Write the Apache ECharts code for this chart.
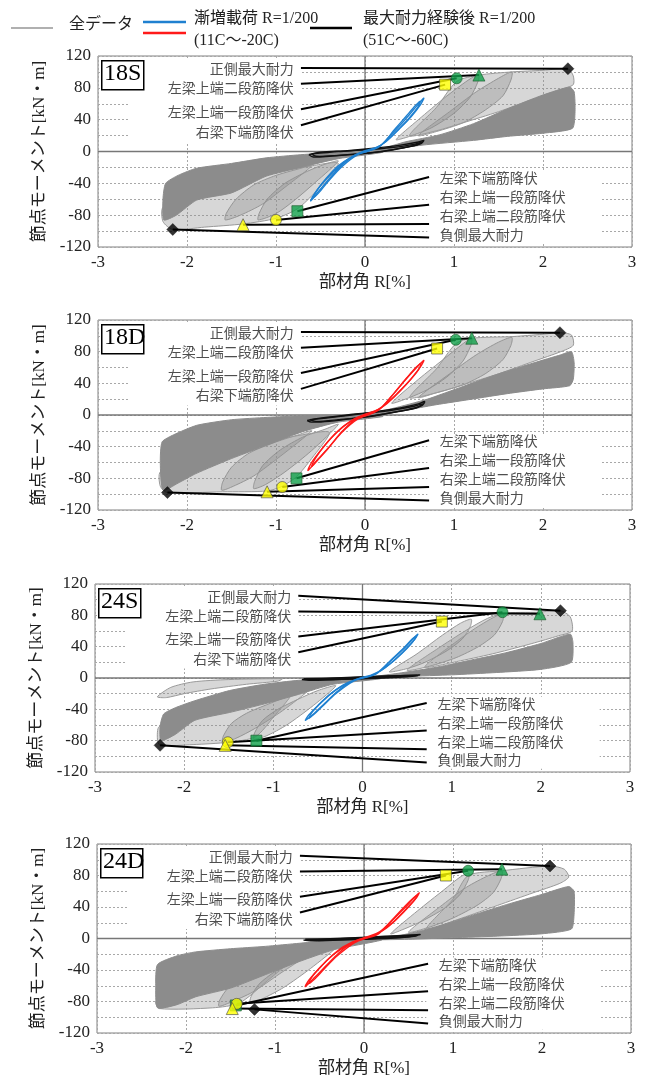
<!DOCTYPE html>
<html>
<head>
<meta charset="utf-8">
<script src="https://cdn.jsdelivr.net/npm/echarts@6/dist/echarts.min.js"></script>
<style>
html,body{margin:0;padding:0;background:#fff}
#main{width:658px;height:1075px}
</style>
</head>
<body>
<div id="main"></div>
<script>
var FONT = "'Liberation Serif','Noto Sans CJK JP',serif"

// 共通の注記
var panelTags = ['18S', '18D', '24S', '24D']
var posTexts = ['正側最大耐力', '左梁上端二段筋降伏', '左梁上端一段筋降伏', '右梁下端筋降伏']
var negTexts = ['左梁下端筋降伏', '右梁上端一段筋降伏', '右梁上端二段筋降伏', '負側最大耐力']
var posTextY = [102, 78, 48, 23]
var negTextY = [-35, -59, -83, -107]
var anchorY = [105, 85, 53, 33, -32, -67, -91, -108]
// 順番: 正側最大, 左上二段, 左上一段, 右下端, 左下端, 右上一段, 右上二段, 負側最大
var markShapes = ['diamond', 'triangle', 'circle', 'rect', 'rect', 'circle', 'triangle', 'diamond']

// ---- 18S ----
var marks18S = [[2.28,104],[1.28,96],[1.03,92],[0.90,84],[-0.76,-75],[-1.00,-86],[-1.37,-92],[-2.16,-98]]
var band18S = [
  [[-0.2,-4],[0.2,4],[0.45,12],[0.84,21],[1.22,35],[1.61,54],[2.0,71],[2.3,81],[2.35,75],[2.36,50],[2.33,29],[2.0,23],[1.6,19],[1.22,14],[0.64,8],[0.2,1]],
  [[0.2,3],[-0.3,-1],[-0.72,-4],[-1.11,-8],[-1.5,-15],[-1.89,-21],[-2.1,-30],[-2.24,-40],[-2.27,-60],[-2.26,-86],[-2.12,-80],[-1.89,-61],[-1.5,-52],[-1.11,-31],[-0.72,-20],[-0.3,-9],[0.2,-1]]
]
var leaf18S = [
  [[0.35,15],[0.6,40],[0.9,68],[1.1,85],[1.22,94],[1.28,97],[1.27,88],[1.18,68],[1.0,48],[0.75,30],[0.5,19]],
  [[0.6,20],[0.95,50],[1.25,75],[1.5,92],[1.65,100],[1.64,90],[1.55,70],[1.35,52],[1.1,36],[0.8,25]],
  [[0.5,20],[0.8,55],[1.03,88],[1.28,96],[1.65,100],[2.0,102],[2.28,104],[2.34,95],[2.34,84],[2.2,78],[1.9,66],[1.5,50],[1.1,36],[0.8,26]],
  [[-0.3,-12],[-0.55,-38],[-0.8,-62],[-1.0,-78],[-1.2,-86],[-1.19,-78],[-1.1,-60],[-0.9,-40],[-0.65,-25],[-0.45,-16]],
  [[-0.6,-18],[-0.9,-45],[-1.15,-66],[-1.4,-80],[-1.57,-86],[-1.56,-78],[-1.45,-60],[-1.25,-42],[-1.0,-30],[-0.75,-22]],
  [[-0.3,-15],[-0.55,-50],[-0.76,-72],[-1.0,-84],[-1.37,-91],[-1.8,-95],[-2.16,-98],[-2.27,-88],[-2.27,-70],[-2.0,-55],[-1.6,-42],[-1.1,-28],[-0.6,-18]]
]
var cyc18S = [
  [[0,0],[0.15,5],[0.3,22],[0.45,40],[0.58,57],[0.66,67],[0.63,60],[0.52,44],[0.4,30],[0.28,17],[0.15,6],[0.02,0],[-0.1,-4],[-0.25,-16],[-0.4,-34],[-0.52,-50],[-0.61,-62],[-0.58,-55],[-0.48,-40],[-0.36,-26],[-0.22,-12],[-0.08,-3],[0,0]],
  [[0,1],[0.18,8],[0.32,26],[0.46,44],[0.57,58],[0.62,63],[0.59,55],[0.48,40],[0.35,25],[0.22,11],[0.07,2],[-0.08,-4],[-0.26,-19],[-0.41,-37],[-0.52,-52],[-0.58,-58],[-0.54,-49],[-0.43,-33],[-0.3,-18],[-0.14,-6],[0,1]]
]
var post18S = [
  [[-0.63,-4],[-0.5,-1],[-0.2,1],[0.1,4],[0.4,8],[0.6,12],[0.66,14],[0.63,10],[0.45,5],[0.2,0],[-0.1,-3],[-0.4,-6],[-0.58,-7],[-0.63,-4]],
  [[-0.6,-3],[-0.3,0],[0,2],[0.3,5],[0.55,9],[0.64,12],[0.58,8],[0.35,3],[0.05,-2],[-0.3,-5],[-0.55,-6],[-0.6,-3]]
]

// ---- 18D ----
var marks18D = [[2.19,104],[1.20,97],[1.02,95],[0.81,84],[-0.77,-80],[-0.93,-91],[-1.10,-97],[-2.22,-98]]
var band18D = [
  [[-0.2,-4],[0.3,8],[0.7,20],[1.1,36],[1.5,52],[1.9,66],[2.2,76],[2.32,80],[2.35,66],[2.34,45],[2.3,37],[2.0,33],[1.6,27],[1.2,20],[0.8,13],[0.4,5]],
  [[0.2,2],[-0.3,0],[-0.7,-1],[-1.1,-3],[-1.5,-6],[-1.89,-13],[-2.15,-25],[-2.28,-34],[-2.3,-60],[-2.27,-95],[-2.1,-86],[-1.9,-74],[-1.5,-55],[-1.1,-38],[-0.7,-21],[-0.3,-9],[0.2,-2]]
]
var leaf18D = [
  [[0.3,15],[0.6,45],[0.9,72],[1.1,90],[1.2,97],[1.19,88],[1.1,68],[0.92,48],[0.7,32],[0.5,22]],
  [[0.6,22],[0.95,52],[1.25,76],[1.5,92],[1.65,98],[1.64,88],[1.55,70],[1.35,52],[1.1,38],[0.8,28]],
  [[0.5,22],[0.8,58],[1.02,90],[1.2,97],[1.65,99],[2.0,102],[2.19,104],[2.32,101],[2.34,88],[2.2,80],[1.9,68],[1.5,52],[1.1,38],[0.8,28]],
  [[-0.3,-12],[-0.6,-45],[-0.9,-72],[-1.12,-88],[-1.25,-93],[-1.24,-84],[-1.15,-64],[-0.95,-44],[-0.7,-28],[-0.45,-18]],
  [[-0.6,-20],[-0.95,-52],[-1.25,-77],[-1.48,-90],[-1.61,-95],[-1.6,-85],[-1.5,-66],[-1.3,-48],[-1.0,-34],[-0.75,-25]],
  [[-0.4,-22],[-0.6,-55],[-0.77,-78],[-0.93,-90],[-1.1,-96],[-1.6,-97],[-2.22,-98],[-2.3,-90],[-2.3,-72],[-2.0,-62],[-1.6,-48],[-1.1,-34],[-0.7,-25]]
]
var cyc18D = [
  [[0,0],[0.15,6],[0.3,24],[0.45,44],[0.58,60],[0.66,69],[0.63,62],[0.52,46],[0.4,31],[0.28,18],[0.15,7],[0.02,0],[-0.1,-5],[-0.25,-20],[-0.4,-40],[-0.53,-56],[-0.64,-70],[-0.6,-60],[-0.5,-45],[-0.38,-29],[-0.24,-14],[-0.1,-4],[0,0]],
  [[0,1],[0.18,9],[0.33,28],[0.47,47],[0.58,61],[0.63,65],[0.6,57],[0.49,42],[0.36,27],[0.23,13],[0.08,2],[-0.08,-5],[-0.27,-23],[-0.42,-43],[-0.54,-58],[-0.6,-65],[-0.56,-55],[-0.45,-38],[-0.32,-22],[-0.15,-7],[0,1]]
]
var post18D = [
  [[-0.65,-7],[-0.5,-4],[-0.2,0],[0.1,4],[0.4,9],[0.6,14],[0.67,17],[0.64,12],[0.45,6],[0.2,1],[-0.1,-4],[-0.4,-8],[-0.6,-9],[-0.65,-7]],
  [[-0.62,-6],[-0.3,-2],[0,2],[0.3,6],[0.55,11],[0.65,14],[0.58,9],[0.35,4],[0.05,-2],[-0.3,-6],[-0.55,-8],[-0.62,-6]]
]

// ---- 24S ----
var marks24S = [[2.22,86],[1.99,82],[1.57,84],[0.89,72],[-1.19,-80],[-1.51,-82],[-1.54,-86],[-2.27,-86]]
var band24S = [
  [[-0.2,-3],[0.4,6],[0.84,14],[1.22,23],[1.6,32],[2.0,44],[2.33,56],[2.36,45],[2.34,20],[2.0,11],[1.5,7],[1.0,4],[0.5,2],[0,-1]],
  [[0.2,2],[-0.3,-1],[-0.72,-3],[-1.1,-8],[-1.49,-16],[-1.88,-29],[-2.1,-38],[-2.23,-46],[-2.27,-62],[-2.26,-80],[-2.1,-72],[-1.88,-54],[-1.49,-44],[-1.1,-33],[-0.72,-21],[-0.33,-8],[0.2,-1]]
]
var leaf24S = [
  [[0.3,8],[0.6,30],[0.9,55],[1.1,70],[1.22,75],[1.21,66],[1.12,50],[0.95,35],[0.7,20],[0.5,12]],
  [[0.5,10],[0.85,38],[1.15,60],[1.4,76],[1.58,82],[1.57,72],[1.48,55],[1.3,40],[1.05,26],[0.75,15]],
  [[0.7,14],[1.0,42],[1.3,66],[1.57,82],[1.98,84],[2.22,86],[2.33,78],[2.35,60],[2.2,54],[1.9,44],[1.5,32],[1.1,22]],
  [[-0.9,-1],[-1.5,-2],[-1.9,-5],[-2.15,-12],[-2.3,-24],[-2.2,-25],[-2.0,-20],[-1.7,-14],[-1.3,-8],[-0.95,-4]],
  [[-0.3,-10],[-0.55,-35],[-0.85,-60],[-1.08,-74],[-1.22,-78],[-1.21,-70],[-1.12,-54],[-0.95,-40],[-0.72,-27],[-0.5,-16]],
  [[-0.6,-15],[-0.9,-42],[-1.2,-64],[-1.42,-77],[-1.57,-82],[-1.56,-74],[-1.47,-58],[-1.3,-45],[-1.05,-33],[-0.8,-22]],
  [[-0.8,-20],[-1.0,-50],[-1.2,-75],[-1.5,-82],[-1.9,-85],[-2.27,-86],[-2.3,-78],[-2.28,-62],[-2.0,-54],[-1.6,-44],[-1.2,-32]]
]
var cyc24S = [
  [[0,0],[0.15,5],[0.3,20],[0.45,36],[0.55,48],[0.62,56],[0.59,50],[0.5,38],[0.38,25],[0.25,13],[0.12,4],[0,0],[-0.12,-4],[-0.28,-17],[-0.42,-32],[-0.54,-45],[-0.64,-54],[-0.6,-47],[-0.5,-35],[-0.38,-22],[-0.22,-9],[-0.08,-2],[0,0]],
  [[0,1],[0.17,7],[0.32,23],[0.46,38],[0.56,50],[0.6,53],[0.56,46],[0.46,34],[0.34,21],[0.2,9],[0.06,2],[-0.1,-4],[-0.3,-20],[-0.44,-35],[-0.55,-47],[-0.6,-51],[-0.56,-43],[-0.45,-30],[-0.32,-17],[-0.15,-6],[0,1]]
]
var post24S = [
  [[-0.68,-2],[-0.4,-1],[0,1],[0.4,3],[0.64,4],[0.5,2],[0.1,0],[-0.3,-2],[-0.6,-3],[-0.68,-2]],
  [[-0.66,-1],[-0.3,0],[0.1,2],[0.45,3],[0.62,3],[0.4,1],[0,-1],[-0.4,-2],[-0.66,-1]]
]

// ---- 24D ----
var marks24D = [[2.09,92],[1.55,88],[1.17,86],[0.92,80],[-1.44,-85],[-1.43,-83],[-1.48,-89],[-1.23,-90]]
var band24D = [
  [[-0.2,-3],[0.45,5],[0.84,16],[1.23,30],[1.6,43],[2.0,56],[2.3,66],[2.36,60],[2.36,30],[2.33,12],[2.0,6],[1.5,3],[1.0,1],[0.5,-1],[0,-2]],
  [[0.2,2],[-0.33,-2],[-0.72,-6],[-1.11,-10],[-1.5,-13],[-1.89,-17],[-2.1,-22],[-2.32,-33],[-2.34,-60],[-2.32,-88],[-2.1,-84],[-1.89,-74],[-1.5,-63],[-1.11,-46],[-0.72,-29],[-0.33,-14],[0.2,-2]]
]
var leaf24D = [
  [[0.3,6],[0.6,35],[0.9,62],[1.08,78],[1.18,83],[1.17,74],[1.08,56],[0.9,38],[0.65,22],[0.45,12]],
  [[0.5,8],[0.85,40],[1.15,65],[1.4,80],[1.55,86],[1.54,76],[1.45,58],[1.27,42],[1.0,26],[0.75,15]],
  [[0.7,12],[1.0,50],[1.17,80],[1.55,86],[2.09,92],[2.25,88],[2.3,78],[2.2,70],[1.9,58],[1.5,42],[1.1,26]],
  [[-0.3,-10],[-0.6,-38],[-0.9,-62],[-1.15,-77],[-1.28,-82],[-1.27,-74],[-1.18,-58],[-1.0,-42],[-0.75,-28],[-0.5,-17]],
  [[-0.6,-18],[-0.95,-45],[-1.25,-68],[-1.5,-81],[-1.63,-86],[-1.62,-78],[-1.52,-62],[-1.32,-48],[-1.05,-35],[-0.8,-25]],
  [[-0.8,-25],[-1.1,-55],[-1.4,-82],[-1.7,-88],[-2.3,-89],[-2.34,-80],[-2.2,-72],[-1.9,-64],[-1.5,-50],[-1.1,-36]]
]
var cyc24D = [
  [[0,0],[0.15,5],[0.3,21],[0.45,38],[0.55,50],[0.62,58],[0.59,52],[0.5,40],[0.38,26],[0.25,13],[0.12,4],[0,0],[-0.12,-4],[-0.28,-18],[-0.43,-35],[-0.55,-49],[-0.66,-61],[-0.62,-53],[-0.52,-40],[-0.4,-26],[-0.24,-11],[-0.08,-2],[0,0]],
  [[0,1],[0.17,8],[0.32,24],[0.46,41],[0.56,52],[0.6,55],[0.56,48],[0.46,36],[0.34,22],[0.2,10],[0.06,2],[-0.1,-5],[-0.3,-22],[-0.45,-39],[-0.56,-52],[-0.62,-57],[-0.58,-48],[-0.47,-34],[-0.34,-20],[-0.16,-7],[0,1]]
]
var post24D = [
  [[-0.68,-2],[-0.4,-1],[0,1],[0.4,3],[0.63,5],[0.5,2],[0.1,0],[-0.3,-2],[-0.6,-3],[-0.68,-2]],
  [[-0.66,-1],[-0.3,0],[0.1,2],[0.45,4],[0.6,4],[0.4,1],[0,-1],[-0.4,-2],[-0.66,-1]]
]

var panels = [
  {marks: marks18S, bands: band18S, leaves: leaf18S, cyc: cyc18S, post: post18S, color: '#1f80d0'},
  {marks: marks18D, bands: band18D, leaves: leaf18D, cyc: cyc18D, post: post18D, color: '#ff1a1a'},
  {marks: marks24S, bands: band24S, leaves: leaf24S, cyc: cyc24S, post: post24S, color: '#1f80d0'},
  {marks: marks24D, bands: band24D, leaves: leaf24D, cyc: cyc24D, post: post24D, color: '#ff1a1a'}
]
// グリッド配置 [left, top, width, height]
var boxes = [[98, 56, 534, 191], [98, 320, 534, 190], [95, 584, 535, 188], [97, 844, 534, 189]]

function markStyle(i) {
  if (i == 0 || i == 7) return {color: '#000', borderColor: '#000', borderWidth: 0.5}
  if (i == 1 || i == 2 || i == 4) return {color: '#10a04a', borderColor: '#1a5a2a', borderWidth: 0.8}
  return {color: '#ffff00', borderColor: '#444', borderWidth: 0.8}
}
function markSize(i) {
  if (i == 0 || i == 7) return 12
  if (i == 1 || i == 6) return 12
  return 11
}

function shapeSeries(gi, list, kind, style, z, smooth) {
  return {
    type: 'custom', xAxisIndex: gi, yAxisIndex: gi, z: z, silent: true, clip: true,
    data: list.map(function () { return [0, 0] }),
    renderItem: function (params, api) {
      var pts = list[params.dataIndex].map(function (p) { return api.coord(p) })
      return {type: kind, shape: {points: pts, smooth: smooth}, style: Object.assign({}, style)}
    }
  }
}

function rectSeries(gi, areas) {
  return {
    type: 'custom', xAxisIndex: gi, yAxisIndex: gi, z: 1, silent: true,
    data: areas.map(function () { return [0, 0] }),
    renderItem: function (params, api) {
      var a = areas[params.dataIndex]
      var p1 = api.coord([a[0], a[1]]), p2 = api.coord([a[2], a[3]])
      return {type: 'rect', shape: {x: Math.min(p1[0], p2[0]), y: Math.min(p1[1], p2[1]),
        width: Math.abs(p2[0] - p1[0]), height: Math.abs(p2[1] - p1[1])}, style: {fill: '#fff'}}
    }
  }
}

function leaderSeries(gi, marks) {
  return {
    type: 'custom', xAxisIndex: gi, yAxisIndex: gi, z: 7, silent: true,
    data: marks.map(function () { return [0, 0] }),
    renderItem: function (params, api) {
      var i = params.dataIndex
      var a = api.coord([i < 4 ? -0.72 : 0.72, anchorY[i]])
      var b = api.coord(marks[i])
      return {type: 'line', shape: {x1: a[0], y1: a[1], x2: b[0], y2: b[1]}, style: {stroke: '#000', lineWidth: 2}}
    }
  }
}

var grids = [], xAxes = [], yAxes = [], series = [], graphics = []

boxes.forEach(function (b, gi) {
  var pn = panels[gi]
  grids.push({left: b[0], top: b[1], width: b[2], height: b[3], show: true, borderColor: '#808080', borderWidth: 1, backgroundColor: 'transparent', outerBoundsMode: 'none'})
  xAxes.push({
    type: 'value', gridIndex: gi, min: -3, max: 3, interval: 1,
    axisLine: {show: false}, axisTick: {show: false},
    axisLabel: {fontFamily: FONT, fontSize: 17, color: '#222', margin: 7},
    splitLine: {show: true, lineStyle: {color: '#a8a8a8', type: [2, 2], width: 1}},
    name: '部材角 R[%]', nameLocation: 'middle', nameGap: 27,
    nameTextStyle: {fontFamily: FONT, fontSize: 17, color: '#222'}
  })
  yAxes.push({
    type: 'value', gridIndex: gi, min: -120, max: 120, interval: 20,
    axisLine: {show: false}, axisTick: {show: false},
    axisLabel: {fontFamily: FONT, fontSize: 17, color: '#222', margin: 7,
      formatter: function (v) { return v % 40 === 0 ? String(v) : '' }},
    splitLine: {show: true, lineStyle: {color: '#a8a8a8', type: [2, 2], width: 1}},
    name: '節点モーメント[kN・m]', nameLocation: 'middle', nameGap: 50,
    nameTextStyle: {fontFamily: FONT, fontSize: 17, color: '#222'}
  })

  // 注記の白地
  series.push(rectSeries(gi, [[-2.66, 12, -0.72, 116], [0.7, -24, 2.66, -116]]))
  // 原点線
  series.push({type: 'line', xAxisIndex: gi, yAxisIndex: gi, data: [[-3, 0], [3, 0]], symbol: 'none', silent: true, z: 1,
    lineStyle: {color: '#777', width: 1.3}})
  series.push({type: 'line', xAxisIndex: gi, yAxisIndex: gi, data: [[0, -120], [0, 120]], symbol: 'none', silent: true, z: 1,
    lineStyle: {color: '#777', width: 1.3}})
  // 全データ
  series.push(shapeSeries(gi, pn.leaves, 'polygon', {fill: 'rgba(140,140,140,0.35)', stroke: '#9a9a9a', lineWidth: 1}, 2, 0.25))
  series.push(shapeSeries(gi, pn.bands, 'polygon', {fill: '#8c8c8c', stroke: '#8c8c8c', lineWidth: 1}, 3, 0.2))
  // 最大耐力経験後
  series.push(shapeSeries(gi, pn.post, 'polyline', {fill: null, stroke: '#111', lineWidth: 1.4}, 4, 0.3))
  // 漸増載荷
  series.push(shapeSeries(gi, pn.cyc, 'polyline', {fill: null, stroke: pn.color, lineWidth: 1.4}, 5, 0.3))
  // 引出線
  series.push(leaderSeries(gi, pn.marks))
  // マーカー
  series.push({
    type: 'scatter', xAxisIndex: gi, yAxisIndex: gi, z: 8, silent: true,
    data: pn.marks.map(function (m, i) {
      return {value: m, symbol: markShapes[i], symbolSize: markSize(i), itemStyle: markStyle(i)}
    })
  })
  // 注記テキスト
  var labs = posTexts.map(function (t, i) {
    return {value: [-0.8, posTextY[i]], name: t, label: {position: 'left'}}
  }).concat(negTexts.map(function (t, i) {
    return {value: [0.84, negTextY[i]], name: t, label: {position: 'right'}}
  }))
  series.push({
    type: 'scatter', xAxisIndex: gi, yAxisIndex: gi, z: 9, silent: true, symbolSize: 0,
    data: labs,
    label: {show: true, formatter: '{b}', distance: 0, fontFamily: FONT, fontSize: 14, color: '#222'}
  })

  graphics.push({type: 'rect', left: b[0] + 3, top: b[1] + 4, z: 100,
    shape: {width: 42, height: 29}, style: {fill: '#fff', stroke: '#000', lineWidth: 1.5}})
  graphics.push({type: 'text', left: b[0] + 6, top: b[1] + 6, z: 101,
    style: {text: panelTags[gi], font: "24px 'Liberation Serif'", fill: '#000'}})
})

// 凡例
function legLine(x1, y, x2, color, w) {
  return {type: 'line', shape: {x1: x1, y1: y, x2: x2, y2: y}, style: {stroke: color, lineWidth: w}, z: 100}
}
function legText(x, y, t) {
  return {type: 'text', left: x, top: y - 9, z: 100, style: {text: t, font: "16px " + FONT, fill: '#222'}}
}
graphics.push(legLine(11, 28, 53, '#b0b0b0', 2))
graphics.push(legText(69, 26, '全データ'))
graphics.push(legLine(143, 22, 186, '#1f80d0', 2.5))
graphics.push(legLine(143, 33, 186, '#ff1a1a', 2.5))
graphics.push(legText(194, 20, '漸増載荷 R=1/200'))
graphics.push(legText(194, 42, '(11C〜-20C)'))
graphics.push(legLine(310, 28, 352, '#000', 2.5))
graphics.push(legText(363, 20, '最大耐力経験後 R=1/200'))
graphics.push(legText(363, 42, '(51C〜-60C)'))

var chart = echarts.init(document.getElementById('main'), null, {renderer: 'canvas'})
chart.setOption({
  animation: false,
  backgroundColor: '#fff',
  grid: grids,
  xAxis: xAxes,
  yAxis: yAxes,
  series: series,
  graphic: graphics
})
</script>
</body>
</html>
